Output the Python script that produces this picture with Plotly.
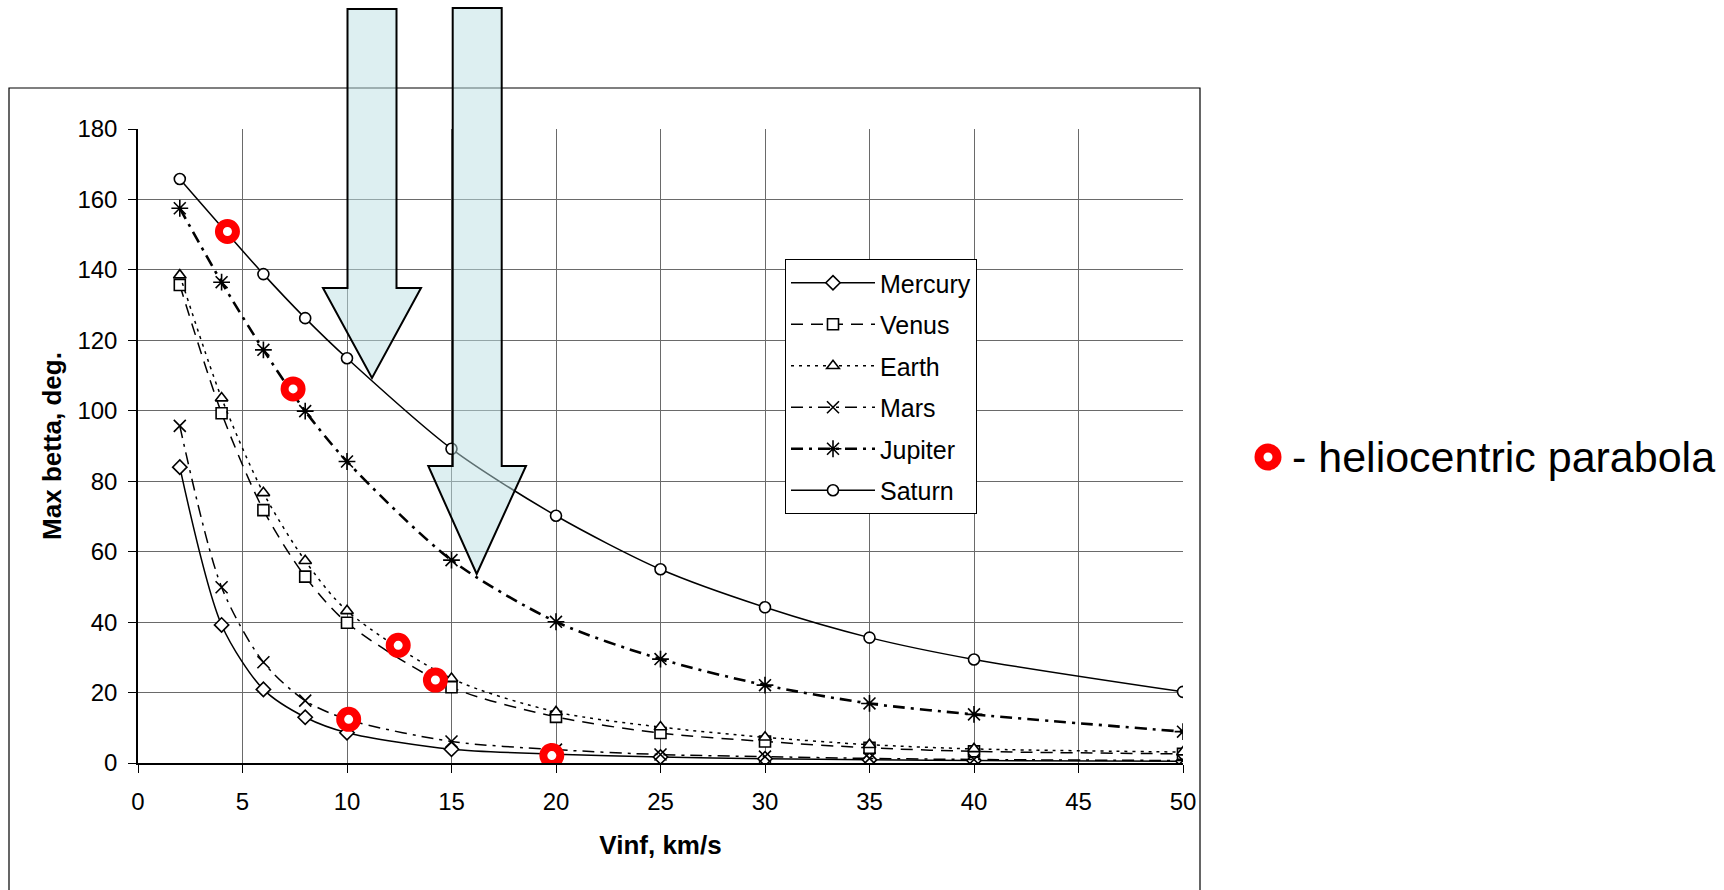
import plotly.graph_objects as go

# ---------------- data ----------------
vinf = [2, 4, 6, 8, 10, 15, 20, 25, 30, 35, 40, 50]
mercury = [84.0, 39.2, 20.9, 13.0, 8.6, 3.9, 2.5, 1.7, 1.2, 0.9, 0.7, 0.5]
venus = [135.7, 99.3, 71.8, 52.9, 39.8, 21.5, 13.1, 8.5, 6.1, 4.3, 3.3, 2.6]
earth = [138.5, 103.6, 76.7, 57.4, 43.2, 24.0, 14.5, 10.2, 7.3, 5.2, 4.0, 3.1]
mars = [95.7, 49.9, 28.6, 17.7, 12.4, 6.1, 3.8, 2.4, 1.8, 1.3, 1.0, 0.7]
jupiter = [157.5, 136.5, 117.3, 99.9, 85.6, 57.6, 40.1, 29.5, 22.1, 16.9, 13.8, 8.9]
vinf_saturn = [2, 6, 8, 10, 15, 20, 25, 30, 35, 40, 50]
saturn = [165.8, 138.8, 126.3, 114.9, 89.2, 70.2, 55.0, 44.2, 35.6, 29.4, 20.2]

parabola_vinf = [4.28, 7.42, 10.08, 12.45, 14.23, 19.8]
parabola_betta = [150.9, 106.2, 12.4, 33.4, 23.55, 2.1]

x_ticks = [0, 5, 10, 15, 20, 25, 30, 35, 40, 45, 50]
y_ticks = [0, 20, 40, 60, 80, 100, 120, 140, 160, 180]

# ---------------- layout geometry (pixels) ----------------
W, H = 1724, 890
L, R, T, B = 138, 1183, 129, 763
FONT = "Liberation Sans, Arial, sans-serif"


def px(X):
    return (X - L) / (R - L)


def py(Y):
    return (B - Y) / (B - T)


# name, x, y, dash, line width, symbol, size, marker fill
series = [
    ("Mercury", vinf, mercury, "solid", 1.5, "diamond", 11, "white"),
    ("Venus", vinf, venus, "12px,8px", 1.5, "square", 11, "white"),
    ("Earth", vinf, earth, "3px,5px", 1.5, "triangle-up", 11, "white"),
    ("Mars", vinf, mars, "12px,6px,3px,6px", 1.5, "x-thin-open", 12, "black"),
    ("Jupiter", vinf, jupiter, "12px,6px,3px,6px", 2.6, "asterisk-open", 14, "black"),
    ("Saturn", vinf_saturn, saturn, "solid", 1.5, "circle", 11, "white"),
]

fig = go.Figure()
for i, (name, xs, ys, dash, lw, sym, ms, mc) in enumerate(series):
    fig.add_trace(go.Scatter(
        x=xs, y=ys, name=name, mode="lines+markers",
        legendgroup=f"g{i}",
        line=dict(color="black", width=lw, dash=dash, shape="spline", smoothing=0.8),
        marker=dict(symbol=sym, size=ms, color=mc,
                    line=dict(color="black", width=1.6)),
    ))

fig.add_trace(go.Scatter(
    x=parabola_vinf, y=parabola_betta, mode="markers", showlegend=False,
    marker=dict(symbol="circle", size=17, color="white",
                line=dict(color="#ff0000", width=8)),
))


# arrows (decorations)
def arrow_path(xl, xr, ytop, ybase, hl, hr, xtip, ytip):
    pts = [(xl, ytop), (xr, ytop), (xr, ybase), (hr, ybase), (xtip, ytip),
           (hl, ybase), (xl, ybase)]
    return "M " + " L ".join(f"{px(a):.5f},{py(b):.5f}" for a, b in pts) + " Z"


shapes = [
    dict(type="rect", xref="paper", yref="paper",
         x0=px(9), x1=px(1200), y0=py(88), y1=py(900),
         line=dict(color="black", width=1.2), layer="below"),
    dict(type="path", xref="paper", yref="paper",
         path=arrow_path(347.5, 396.5, 9, 288, 323, 421, 372, 378),
         fillcolor="rgba(188,224,228,0.5)", line=dict(color="black", width=2),
         layer="above"),
    dict(type="path", xref="paper", yref="paper",
         path=arrow_path(452.7, 501.7, 8, 466, 428.3, 526, 476.7, 574),
         fillcolor="rgba(188,224,228,0.5)", line=dict(color="black", width=2),
         layer="above"),
    dict(type="circle", xref="paper", yref="paper",
         x0=px(1268 - 9), x1=px(1268 + 9), y0=py(457 + 9), y1=py(457 - 9),
         line=dict(color="#ff0000", width=9), fillcolor="white"),
]

fig.update_layout(
    width=W, height=H,
    margin=dict(l=L, r=W - R, t=T, b=H - B, pad=0),
    paper_bgcolor="white", plot_bgcolor="white",
    font=dict(family=FONT, color="black", size=24),
    shapes=shapes,
    showlegend=True,
    legend=dict(
        x=px(785), y=py(259), xanchor="left", yanchor="top",
        bgcolor="white", bordercolor="black", borderwidth=1,
        font=dict(family=FONT, size=25, color="black"),
        tracegroupgap=6, itemwidth=84,
    ),
    annotations=[dict(
        xref="paper", yref="paper", x=px(1290), y=py(457),
        xanchor="left", yanchor="middle", showarrow=False,
        text="- heliocentric parabola",
        font=dict(family=FONT, size=43, color="black"),
    )],
    xaxis=dict(
        range=[0, 50], tickvals=x_ticks, ticks="outside", ticklen=8,
        tickcolor="black", showline=True, linecolor="black", linewidth=1.5,
        showgrid=True, gridcolor="#6a6a6a", gridwidth=1, zeroline=False,
        tickfont=dict(size=24), ticklabelstandoff=8,
        title=dict(text="<b>Vinf, km/s</b>", font=dict(size=26), standoff=22),
    ),
    yaxis=dict(
        range=[0, 180], tickvals=y_ticks, ticks="outside", ticklen=8,
        tickcolor="black", showline=True, linecolor="black", linewidth=1.5,
        showgrid=True, gridcolor="#6a6a6a", gridwidth=1, zeroline=False,
        tickfont=dict(size=24), ticklabelstandoff=6,
        title=dict(text="<b>Max betta, deg.</b>", font=dict(size=26), standoff=8),
    ),
)

fig.write_html("out.html")
